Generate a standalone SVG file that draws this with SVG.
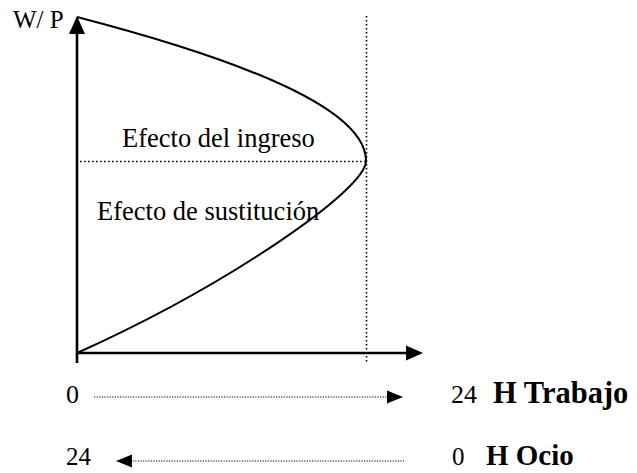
<svg xmlns="http://www.w3.org/2000/svg" width="637" height="473" viewBox="0 0 637 473">
<style>
.t{font-family:"Liberation Serif","Times New Roman",serif;fill:#000}
.b{font-weight:bold}
.ax{stroke:#000;stroke-width:2.6;fill:none}
.dot{stroke:#000;stroke-width:1.6;stroke-dasharray:1.6 2.4;fill:none}
.fdot{stroke:#000;stroke-width:1.2;stroke-dasharray:1.2 1.4;fill:none}
.ah{fill:#000;stroke:none}
</style>
<rect width="637" height="473" fill="#fff"/>
<g id="connectors">
<line class="ax" x1="77" y1="363" x2="77" y2="32"/>
<polygon class="ah" points="77,16 69,34 85,34"/>
<line class="ax" x1="77" y1="353" x2="408" y2="353"/>
<polygon class="ah" points="423,353 406,345.5 406,360.5"/>
<line class="dot" x1="366.5" y1="16" x2="366.5" y2="364"/>
<line class="dot" x1="80" y1="161.5" x2="366" y2="161.5"/>
<line class="fdot" x1="94" y1="397" x2="388" y2="397"/>
<polygon class="ah" points="403,397 387,390.5 387,403.5"/>
<line class="fdot" x1="130" y1="461" x2="404" y2="461"/>
<polygon class="ah" points="116,461 132,454.5 132,467.5"/>
</g>
<g id="curve">
<path d="M77,17 C250,62 366,110 366,161 C366,190 227,285.5 77,353" fill="none" stroke="#000" stroke-width="2"/>
</g>
<g id="axis-label"><text class="t" x="13" y="28" font-size="25">W/ P</text></g>
<g id="ingreso"><text class="t" x="122" y="147" font-size="26.5">Efecto del ingreso</text></g>
<g id="sustitucion"><text class="t" x="97" y="220" font-size="26.5">Efecto de sustitución</text></g>
<g id="trabajo">
<text class="t" x="66" y="403" font-size="26">0</text>
<text class="t" x="451" y="403" font-size="26">24</text>
<text class="t b" x="493" y="403" font-size="30.5">H Trabajo</text>
</g>
<g id="ocio">
<text class="t" x="66" y="465" font-size="25">24</text>
<text class="t" x="452" y="465" font-size="25">0</text>
<text class="t b" x="486" y="465" font-size="29">H Ocio</text>
</g>
</svg>
